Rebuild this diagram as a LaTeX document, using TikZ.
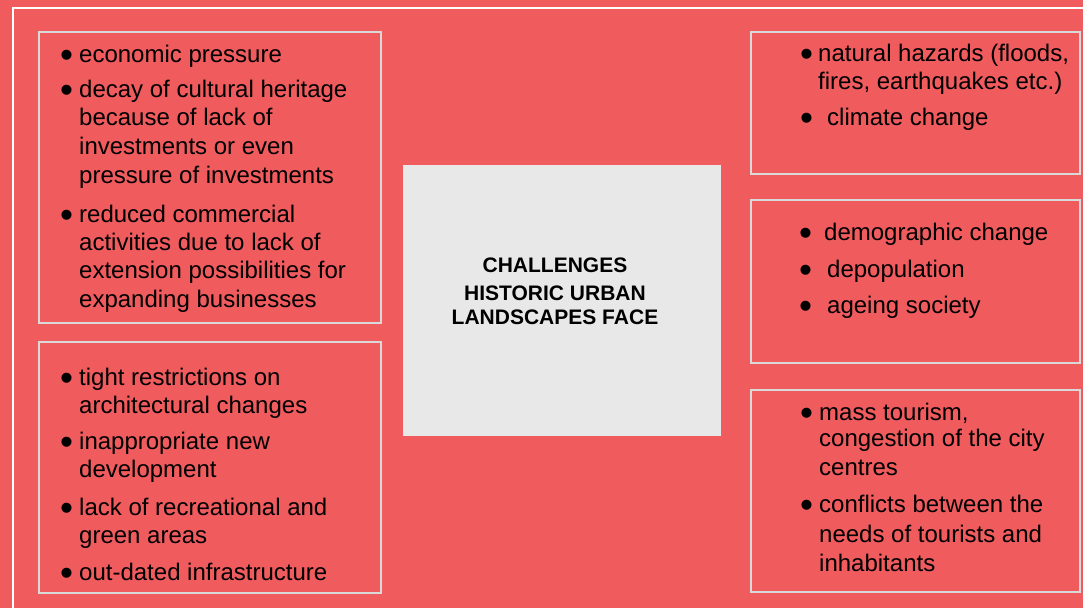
\documentclass[tikz,border=0pt]{standalone}
\usepackage{fontspec}
\setmainfont{Liberation Sans}
\definecolor{bgred}{RGB}{240,91,94}
\definecolor{boxline}{RGB}{217,217,217}
\definecolor{cgray}{RGB}{232,232,232}
\newcommand\bulw[1]{\makebox[#1pt][l]{\raisebox{-5pt}{\fontsize{37}{37}\selectfont •}}}
\begin{document}
\begin{tikzpicture}[x=1pt,y=-1pt,
  box/.style={draw=boxline, line width=2pt, fill=bgred, anchor=north west, inner sep=0pt, outer sep=0pt},
  cbox/.style={fill=cgray, anchor=north west, inner sep=0pt, outer sep=0pt},
  txt/.style={anchor=base west, inner sep=0pt, font=\fontsize{24}{29}\selectfont, text=black},
  ttl/.style={anchor=base, inner sep=0pt, font=\fontsize{21}{25}\selectfont\bfseries, text=black}]
\useasboundingbox (0,0) rectangle (1083,608);
\fill[bgred] (0,0) rectangle (1083,608);
\clip (0,0) rectangle (1083,608);
\draw[white, line width=2pt] (12.8,640) -- (12.8,8.3) -- (1120,8.3);
% boxes
\node[box, minimum width=342pt, minimum height=291pt] (LT) at (39,32) {};
\node[box, minimum width=342pt, minimum height=251pt] (LB) at (39,342) {};
\node[cbox, minimum width=318pt, minimum height=271pt] (C) at (403,165) {};
\node[box, minimum width=329pt, minimum height=142pt] (RT) at (751,32) {};
\node[box, minimum width=329pt, minimum height=163pt] (RM) at (751,200) {};
\node[box, minimum width=329pt, minimum height=202pt] (RB) at (751,390) {};
% title
\node[ttl] (t1) at (555,272.7) {CHALLENGES};
\node[ttl] (t2) at (555,300) {HISTORIC URBAN};
\node[ttl] (t3) at (555,324) {LANDSCAPES FACE};
% left top
\node[txt] (a1) at (60,62.3) {\bulw{19}economic pressure};
\node[txt] (a2) at (60,97.7) {\bulw{19}decay of cultural heritage};
\node[txt] (a3) at (79,125) {because of lack of};
\node[txt] (a4) at (79,154) {investments or even};
\node[txt] (a5) at (79,183) {pressure of investments};
\node[txt] (a6) at (60,222) {\bulw{19}reduced commercial};
\node[txt] (a7) at (79,250) {activities due to lack of};
\node[txt] (a8) at (79,278) {extension possibilities for};
\node[txt] (a9) at (79,307) {expanding businesses};
% left bottom
\node[txt] (b1) at (60,385) {\bulw{19}tight restrictions on};
\node[txt] (b2) at (79,413) {architectural changes};
\node[txt] (b3) at (60,449) {\bulw{19}inappropriate new};
\node[txt] (b4) at (79,477) {development};
\node[txt] (b5) at (60,515) {\bulw{19}lack of recreational and};
\node[txt] (b6) at (79,543) {green areas};
\node[txt] (b7) at (60,580) {\bulw{19}out-dated infrastructure};
% right top
\node[txt] (c1) at (800,61.7) {\bulw{18}natural hazards (floods,};
\node[txt] (c2) at (818,89.3) {fires, earthquakes etc.)};
\node[txt] (c3) at (800,125.7) {\bulw{27}climate change};
% right middle
\node[txt] (d1) at (799,240.7) {\bulw{25}demographic change};
\node[txt] (d2) at (799,277) {\bulw{28}depopulation};
\node[txt] (d3) at (799,313) {\bulw{28}ageing society};
% right bottom
\node[txt] (e1) at (800,420) {\bulw{19}mass tourism,};
\node[txt] (e2) at (819,446.7) {congestion of the city};
\node[txt] (e3) at (819,475) {centres};
\node[txt] (e4) at (800,512) {\bulw{19}conflicts between the};
\node[txt] (e5) at (819,542) {needs of tourists and};
\node[txt] (e6) at (819,571) {inhabitants};
\end{tikzpicture}
\end{document}
